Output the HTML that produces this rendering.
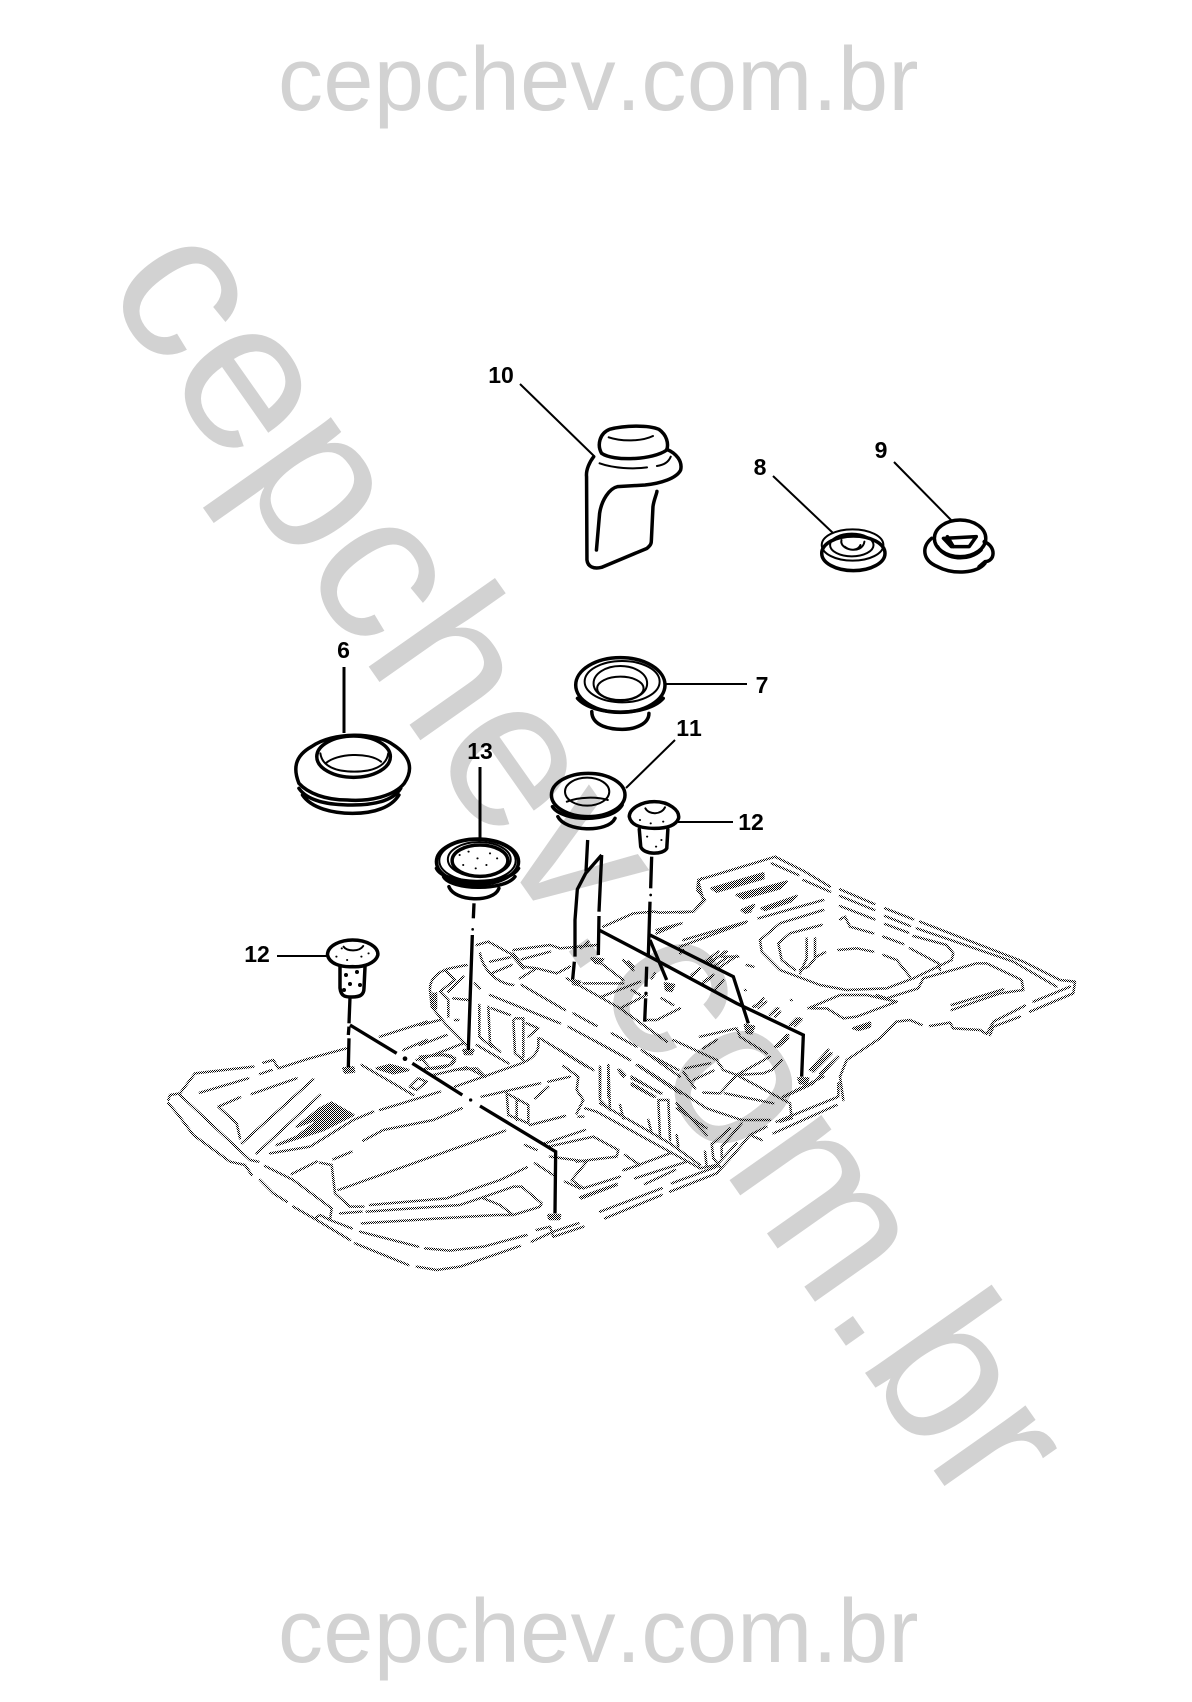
<!DOCTYPE html>
<html><head><meta charset="utf-8"><style>
html,body{margin:0;padding:0;background:#fff;width:1192px;height:1702px;overflow:hidden}
svg{display:block}
.wm{font-family:"Liberation Sans",sans-serif;fill:#d2d2d2;font-kerning:none}
.lb{font-family:"Liberation Sans",sans-serif;font-weight:bold;font-size:23px;fill:#000;text-anchor:middle;dominant-baseline:central;font-kerning:none}
.p *{fill:none;stroke:#000;stroke-width:3.500px;vector-effect:non-scaling-stroke;stroke-linejoin:round;stroke-linecap:round}
.p .t{stroke-width:2px}
.p .d{fill:#000;stroke:none}
.f path{fill:none;stroke:url(#dith);stroke-width:7.5;stroke-linejoin:round;stroke-linecap:round}
.f path.b{fill:url(#dith)}
.k path{fill:none;stroke:#000;stroke-width:10;stroke-linejoin:miter}
.k circle{fill:#000}
.l line{stroke:#000;stroke-width:2px}
</style></head><body>
<svg width="1192" height="1702" viewBox="0 0 1192 1702" xmlns="http://www.w3.org/2000/svg">
<defs><pattern id="dith" patternUnits="userSpaceOnUse" width="6" height="6"><rect x="0" y="0" width="3" height="3" fill="#000"/><rect x="3" y="3" width="3" height="3" fill="#000"/></pattern></defs>
<rect width="1192" height="1702" fill="#fff"/>
<text class="wm" x="278" y="110" font-size="90" letter-spacing=".4">cepchev.com.br</text>
<text class="wm" x="278" y="1662" font-size="90" letter-spacing=".4">cepchev.com.br</text>
<text class="wm" x="101.500" y="286.500" font-size="213" transform="rotate(54.9 101.5 286.5)">cepchev.com.br</text>

<!-- floor, left -->
<g class="f" transform="translate(150,980) scale(.33333)">
<path d="M55,360 L60,345 L90,340 L135,280 L310,260"/>
<path d="M330,282 L365,270 M340,248 L370,240 L385,265 L480,235 L590,205"/>
<path d="M90,345 L300,540 L325,545"/>
<path d="M55,370 L85,405 L130,465 L240,545 L285,555 L305,585"/>
<path d="M150,338 L295,295 M305,342 L440,295 M275,490 L490,298 M320,520 L510,345"/>
<path d="M270,352 L205,380 L260,430 L270,475"/>
<path class="b" d="M380,495 L520,450 L610,405 L545,368 L510,385 L440,440 L520,410 L440,470 Z"/>
<path d="M360,520 L480,500 L610,420 L670,395 M690,390 L870,335 M640,482 L700,450 L850,420 L935,385 M550,538 L605,515"/>
<path d="M345,558 L430,600 L545,685 L540,720 L605,745 M425,582 L500,545 M510,548 L545,555 L555,640 L600,680 L640,680"/>
<path d="M565,630 L1065,452 M330,600 L370,640 L410,665 M430,680 L500,720 L600,780 M495,715 L510,705 L540,720 M570,700 L635,695"/>
<path d="M660,675 L890,655 L1050,600 L1130,562 M650,695 L930,675 L990,655 L1090,620 L1115,620 L1175,670 L1170,680 L1090,705 L1050,675 L1000,655"/>
<path d="M635,730 L870,715 L1040,705 L1090,705 M630,755 L805,800 M615,790 L775,855 M825,805 L900,812 L1000,800 L1130,765 M800,860 L860,870 L930,860 L1110,798"/>
<path d="M1160,750 L1200,740 L1210,770 L1300,740 M1145,785 L1210,755 L1285,730"/>
<path d="M635,255 L790,345"/>
<path class="b" d="M680,265 L720,255 L775,270 L730,280 Z"/>
<path d="M780,320 L805,295 L830,305 L800,330 Z"/>
<path d="M810,230 L880,225 L915,235 L900,255 L840,265 Z"/>
<path d="M850,285 L950,262 L1005,290 M690,170 L830,125 M760,210 L830,180 M800,240 L830,228"/>
<path d="M1070,340 L1135,375 L1135,430 L1075,405 Z M1100,360 L1100,420 M1140,435 L1245,408 M1285,410 L1300,410"/>
<path d="M1240,258 L1285,290 L1280,330 L1300,360 L1280,400"/>
<path d="M1185,490 L1305,450 M1195,500 L1330,470 L1405,510 L1400,530 L1280,545 M1200,530 L1310,545 L1265,600 L1300,625 L1410,590 M1245,605 L1290,625 M1295,655 L1400,615 M1125,495 L1160,510 M1155,550 L1210,585"/>
<path class="b" d="M580,265 L610,262 L612,275 L585,278 Z M1195,705 L1230,705 L1228,717 L1198,717 Z"/>
</g>

<!-- floor, tunnel left -->
<g class="f" transform="translate(420,920) scale(.33333)">
<path d="M30,205 C30,180 50,155 90,145 L140,135 M30,210 L35,260 L75,310 L140,375"/>
<path d="M40,220 L40,260 M48,220 L48,265 M60,215 L105,180 L75,150 M60,215 L85,240 L85,290 M100,235 L145,240 M85,215 L130,170 M165,190 L180,205 M105,300 L115,300"/>
<path d="M170,75 L205,65 L270,100 L310,145 M180,100 C190,150 230,190 280,195"/>
<path d="M280,90 L390,75 L420,85 L530,75 M210,125 L270,112 M215,160 L275,135 M305,118 L390,95 M300,175 L350,145 L410,160 L450,140 M280,100 L310,140 L350,145"/>
<path d="M440,175 L600,265 L740,365 M305,195 L435,270 M210,225 L420,310 M460,280 L530,318 M445,320 L630,420 M575,340 L650,380 M665,390 L780,470 M650,435 L780,520"/>
<path d="M490,190 L610,190 M530,120 L610,180 M545,230 L660,185 M600,265 L680,225 M635,210 L660,225 M725,235 L760,255 M675,300 L710,300 L780,265 M610,120 L640,150 M625,125 L640,140 M482,85 L505,65 M695,175 L705,160"/>
<path d="M178,255 L178,350 L215,380 M205,260 L210,370 L240,395 M215,265 L270,285 M280,300 L285,400 L310,420 M310,300 L310,410 M285,295 L310,295 M320,310 L355,325 L325,350 M355,355 L355,380 C350,410 320,425 290,435 L105,500"/>
<path d="M170,375 L265,430 M0,375 L80,345 M0,420 L130,370 M360,355 L500,440 M60,300 L0,315"/>
<path d="M20,410 C50,400 100,400 105,420 C100,440 50,450 15,445 M100,450 L170,445 L195,470 M185,530 L360,490 M345,535 L385,500 M385,485 L450,470"/>
<path d="M540,440 L540,530 M565,435 L565,530 M595,450 L610,470 M635,475 L725,520 M635,495 L700,530"/>
<path class="b" d="M130,390 L160,390 L155,402 L135,402 Z M515,115 L550,118 L540,130 L525,128 Z M735,190 L762,195 L755,213 L738,210 Z M455,180 L480,185 L475,195 L460,192 Z"/>
</g>

<!-- floor, tunnel right -->
<g class="f" transform="translate(560,1040) scale(.33333)">
<path d="M120,515 L305,445 M135,535 L305,465 M60,472 L170,432"/>
<path d="M195,345 L240,375 L190,390 M195,390 L330,340 M225,415 L380,365 M255,432 L345,390 M335,430 L470,380 M330,455 L470,400 L520,345 L570,285 L620,260 M570,285 L605,300 M640,280 L830,195 M650,245 L835,170 L835,130"/>
<path d="M75,205 L110,215 L420,385 L470,375 L530,310 M120,190 L330,310 L420,375 M455,310 L460,355 L480,380 M510,265 L460,310 M545,250 L485,320 L485,350 M435,335 L440,380"/>
<path d="M120,85 L120,180 L150,210 M145,75 L150,210 M295,180 L300,295 M325,180 L330,300 M300,180 L325,180 M265,240 L275,280 M350,285 L355,320 M180,195 L190,235"/>
<path d="M350,190 L440,285 M350,205 L440,265 M370,95 L405,145 M400,120 L460,92 M375,85 L450,70 M430,158 L480,160 L530,105 L630,50 M495,160 L640,190 M530,105 L690,190 L695,235 L660,245 M470,60 L490,90 L530,105 L610,100 L635,90 L665,60 M340,0 L470,60"/>
<path d="M250,35 L355,90 M100,0 L210,60 M235,75 L440,205 L545,240 L630,240 M215,110 L300,160 M215,130 L285,170 M180,90 L195,105 M0,30 L100,90 M670,170 L790,110 M750,90 L805,30 M760,95 L815,40"/>
</g>

<!-- floor, upper mid -->
<g class="f" transform="translate(420,840) scale(.33333)">
<path d="M550,260 L640,220 L700,215 L720,218 L820,215 L850,180 L835,125 L845,115"/>
<path d="M710,280 L770,255 M710,270 L785,250 M790,300 L980,245 M840,590 L950,565 L960,590 L1040,640"/>
<path d="M780,340 L790,330 M815,405 L840,385 M860,370 L920,335 M850,425 L880,405 M905,350 L955,350 M1005,500 L1030,475 M1050,525 L1075,505 M1115,555 L1140,535 M1070,620 L1100,585 M850,625 L890,600"/>
<path class="b" d="M975,555 L1002,560 L995,580 L980,578 Z M1135,715 L1165,715 L1160,730 L1140,730 Z"/>
</g>

<!-- floor, right -->
<g class="f" transform="translate(680,830) scale(.33333)">
<path d="M0,248 L40,245 L75,210 L52,180 L55,150 L270,85 L285,80 L375,125 L450,170 M275,100 L355,135 M370,150 L450,185"/>
<path class="b" d="M95,175 L250,130 L250,145 L110,185 Z M170,195 L320,155 L300,175 L190,205 Z M245,235 L350,198 L330,215 L255,240 Z M185,240 L222,225 L210,245 L195,248 Z M520,595 L570,578 L570,590 L535,600 Z"/>
<path d="M235,265 L430,210 M0,350 L195,278 M430,240 L300,280 L240,330 L245,365 L300,420 L420,465 L500,480 L620,475 L700,445 L815,390 L820,370 L800,345 L700,318 M425,285 L330,310 L295,340 L305,390 L345,420"/>
<path d="M380,325 L380,385 L360,430 M405,325 L405,385 L385,410 L360,420 M410,380 L435,367 M475,360 L530,355 L580,365"/>
<path d="M480,178 L583,222 M480,198 L583,240 M480,228 L583,268 M615,235 L700,268 M615,258 L690,288 M615,282 L685,308 M610,320 L670,342 M480,268 L495,260 L510,290 L580,310"/>
<path d="M720,275 L1030,395 L1140,450 L1185,455 L1180,490 L1050,545 M710,295 L1000,395 L1130,470 M1060,515 L1170,470"/>
<path d="M610,375 L650,390 L690,440 M690,355 L775,400 L780,420 M385,535 L480,495 L560,495 L650,515 M395,535 L440,535 L490,565 L530,560 L650,515"/>
<path d="M730,445 L890,400 L920,400 L1025,450 L1030,480 L960,490 L815,540 M730,445 L715,475 L620,505 L590,495 M815,525 L970,478"/>
<path d="M600,625 L650,575 L690,570 L725,585 M750,588 L810,578 L820,595 L900,600 L920,612 L940,575 L1035,527 M930,615 L940,590 L1020,560 M600,625 L500,690 L480,740 L490,810"/>
<path d="M395,720 L445,660 M405,720 L450,670 M420,730 L475,680 M315,800 L400,760 L475,680 M285,650 L325,615 M295,650 L325,625"/>
<path d="M220,530 L245,515 M235,535 L258,515 M270,555 L290,535 M285,560 L300,545 M330,585 L350,565 M345,588 L365,568 M75,395 L115,365 M90,400 L135,365 M100,410 L145,380 M115,415 L170,378 M35,440 L60,415 M70,460 L95,440 M105,480 L130,450 M195,480 L197,480 M333,510 L335,510 M200,405 L220,410"/>
</g>

<!-- dash leaders -->
<g class="k" transform="translate(150,980) scale(.33333)">
<path d="M600,52 L597,130 M597,140 L595,165 M597,175 L595,262"/>
<path d="M600,135 L740,220 M787,250 L937,345 M990,378 L1217,515 L1215,700"/>
<circle cx="765" cy="236" r="7"/><circle cx="962" cy="360" r="5"/>
</g>
<g class="k" transform="translate(420,840) scale(.33333)">
<path d="M162,190 L160,235 M157,285 L145,630"/><circle cx="158" cy="268" r="4"/>
<path d="M503,0 L498,95 M545,45 L497,100 L472,148 L465,240 L465,350 M463,365 L458,418"/>
<path d="M545,45 L537,215 M537,228 L535,345"/>
<path d="M537,270 L680,345 L950,490 L1150,585 L1145,710"/>
<path d="M695,50 L692,145 M690,185 L685,345 M680,380 L678,440 M677,475 L674,545"/>
<circle cx="692" cy="165" r="4"/><circle cx="678" cy="460" r="5"/>
<path d="M690,285 L940,410 L985,550 M690,300 L740,420"/>
</g>

<!-- label leaders -->
<g class="l">
<line x1="520" y1="384" x2="594" y2="456"/>
<line x1="773" y1="476" x2="833" y2="533"/>
<line x1="894" y1="462" x2="952" y2="521"/>
<line x1="666" y1="684" x2="747" y2="684"/>
<line x1="344" y1="667" x2="344" y2="733" style="stroke-width:3px"/>
<line x1="480" y1="767" x2="480" y2="838" style="stroke-width:3px"/>
<line x1="675" y1="740" x2="626" y2="788"/>
<line x1="733" y1="822" x2="678" y2="822"/>
<line x1="277" y1="956" x2="328" y2="956"/>
</g>

<!-- parts 10 8 9 -->
<g class="p" transform="translate(400,330) scale(.39526,.33333)">
<path d="M510,370 C498,345 505,310 530,298 C570,285 630,285 655,298 C675,315 680,340 675,360 C640,390 540,395 510,370 Z"/>
<path class="t" d="M528,322 C560,335 610,335 640,318"/>
<path d="M490,380 C480,395 470,420 472,440 L473,690 C475,710 490,718 510,712 L625,655 C635,645 636,640 636,630 L640,530 C642,510 650,490 650,484"/>
<path d="M675,358 C700,370 715,395 710,420 C700,445 660,460 620,465 L550,470 C530,475 510,510 505,550 L497,660"/>
<path class="t" d="M505,400 C540,415 590,418 625,412 M650,408 C670,405 680,395 685,380"/>

<ellipse cx="1147" cy="670" rx="80" ry="52"/>
<ellipse cx="1145" cy="645" rx="78" ry="47" class="t"/>
<ellipse cx="1143" cy="645" rx="55" ry="34" class="t"/>
<path class="t" d="M1117,630 C1110,660 1170,675 1175,635 M1125,650 C1140,665 1160,660 1165,645 M1130,620 L1155,618"/>

<ellipse cx="1417" cy="625" rx="65" ry="55"/>
<path d="M1345,625 C1320,650 1320,690 1360,710 C1400,735 1460,730 1480,700"/>
<path d="M1360,650 C1380,690 1440,695 1470,660 M1478,635 C1510,650 1505,695 1480,695 L1465,710"/>
<path d="M1375,625 L1458,620 L1440,650 L1395,650 Z M1385,620 L1400,650"/>
</g>

<!-- parts 6 7 11 12 13 -->
<g class="p" transform="translate(240,620) scale(.35714,.33333)">
<ellipse cx="1065" cy="195" rx="125" ry="82"/>
<ellipse cx="1070" cy="185" rx="105" ry="62" class="t"/>
<ellipse cx="1065" cy="190" rx="75" ry="52" class="t"/>
<ellipse cx="1065" cy="205" rx="65" ry="35" class="t"/>
<path d="M945,235 C990,290 1140,290 1185,235"/>
<path d="M985,275 C985,320 1040,328 1070,328 C1110,328 1145,310 1145,280"/>

<path d="M165,490 C150,450 150,410 200,380 C260,335 380,335 430,375 C480,410 485,450 460,490 C430,530 360,545 300,540 C240,540 190,520 165,490 Z"/>
<ellipse cx="318" cy="410" rx="103" ry="62"/>
<path class="t" d="M225,400 C230,440 270,455 320,455 C370,455 410,440 415,400"/>
<path class="t" d="M240,430 C270,400 360,395 395,425"/>
<path d="M165,505 C190,545 250,555 315,555 C380,555 430,540 450,505 M175,525 C200,565 260,580 315,580 C380,580 425,560 445,525"/>

<ellipse cx="975" cy="525" rx="103" ry="65"/>
<ellipse cx="972" cy="515" rx="62" ry="42" class="t"/>
<path class="t" d="M915,545 C950,530 1000,530 1030,540"/>
<path d="M875,560 C900,605 1040,610 1070,555"/>
<path d="M890,590 C910,635 1030,640 1050,595"/>

<path d="M1090,590 C1090,565 1125,545 1160,545 C1200,545 1232,570 1228,595 C1220,618 1190,625 1160,625 C1125,625 1095,618 1090,590 Z"/>
<path class="t" d="M1135,565 C1145,585 1180,585 1190,562"/>
<path d="M1118,628 L1122,680 C1130,705 1185,705 1195,685 L1198,628"/>

<ellipse cx="665" cy="725" rx="115" ry="68"/>
<ellipse cx="665" cy="722" rx="107" ry="62" class="t"/>
<ellipse cx="670" cy="718" rx="88" ry="52" class="t"/>
<ellipse cx="672" cy="722" rx="78" ry="47"/>
<path d="M550,745 C570,795 750,800 780,745 M570,770 C590,810 740,815 770,770 M585,800 C600,845 710,850 725,805"/>

<path d="M245,1005 C245,975 285,960 315,960 C355,960 388,980 386,1005 C380,1030 345,1042 315,1040 C280,1042 250,1030 245,1005 Z"/>
<path class="t" d="M290,980 C300,995 335,995 345,978"/>

<g>
<circle class="d" cx="615" cy="705" r="3"/><circle class="d" cx="640" cy="695" r="3"/><circle class="d" cx="665" cy="715" r="3"/><circle class="d" cx="700" cy="700" r="3"/><circle class="d" cx="720" cy="715" r="3"/><circle class="d" cx="625" cy="735" r="3"/><circle class="d" cx="660" cy="745" r="3"/><circle class="d" cx="690" cy="735" r="3"/>
<circle class="d" cx="1120" cy="600" r="3"/><circle class="d" cx="1150" cy="610" r="3"/><circle class="d" cx="1185" cy="605" r="3"/><circle class="d" cx="1140" cy="650" r="3"/><circle class="d" cx="1165" cy="680" r="3"/><circle class="d" cx="1180" cy="660" r="3"/>
<circle class="d" cx="270" cy="1010" r="3"/><circle class="d" cx="300" cy="1020" r="3"/><circle class="d" cx="340" cy="1010" r="3"/><circle class="d" cx="360" cy="1000" r="3"/><circle class="d" cx="285" cy="985" r="3"/>
</g>
</g>

<!-- part 12 lower stem -->
<g class="p">
<path d="M340,967 L340,988 C341,997 346,997 352,997 C360,997 364,995 364,988 L365,967"/>
<circle class="d" cx="346" cy="975" r="2"/><circle class="d" cx="357" cy="972" r="2"/><circle class="d" cx="350" cy="984" r="2"/><circle class="d" cx="360" cy="985" r="2"/><circle class="d" cx="344" cy="990" r="2"/>
</g>

<text class="lb" x="501" y="375">10</text>
<text class="lb" x="760" y="467">8</text>
<text class="lb" x="881" y="450">9</text>
<text class="lb" x="762" y="685">7</text>
<text class="lb" x="689" y="728">11</text>
<text class="lb" x="343.500" y="650">6</text>
<text class="lb" x="480" y="751">13</text>
<text class="lb" x="751" y="822">12</text>
<text class="lb" x="257" y="954">12</text>
</svg>
</body></html>
